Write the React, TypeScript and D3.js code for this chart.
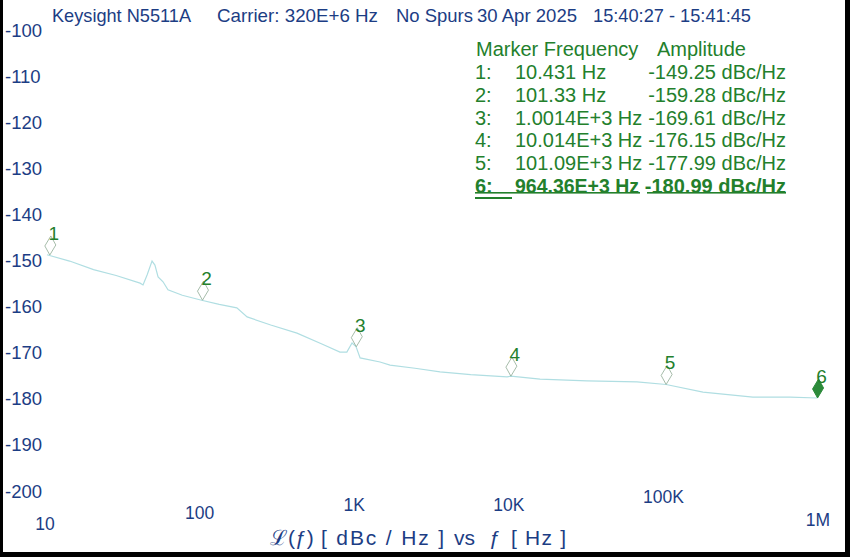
import { useMemo } from 'react';
import * as d3 from 'd3';

// phase noise trace
const traceFreq = [
  10, 14, 20, 28, 40, 41.8, 44.4, 47.8, 49.9, 52.3, 56.3, 60.6, 75, 100, 130, 169, 197, 280, 414, 600,
  785, 870, 940, 997, 1060, 1426, 1655, 2400, 3486, 5500, 9450, 10014, 15450, 31100, 65500, 101090,
  175000, 368000, 640000, 964360
];
const traceLevel = [
  -149.2, -150.6, -152.5, -153.8, -155.5, -155.9, -153.7, -150.6, -151.5, -154.1, -155.2, -157.0,
  -158.2, -159.3, -160.2, -161.0, -163.0, -164.8, -166.6, -169.0, -170.8, -170.8, -168.8, -169.6,
  -172.1, -173.0, -173.7, -174.4, -175.2, -175.8, -176.3, -176.15, -176.8, -177.2, -177.4, -178.0,
  -179.7, -180.8, -180.8, -181.0
];

const markerIds = ['1', '2', '3', '4', '5', '6'];
const markerFreq = [10.431, 101.33, 1001.4, 10014, 101090, 964360];
const markerLevel = [-149.25, -159.28, -169.61, -176.15, -177.99, -180.99];
const markerFreqText = ['10.431 Hz', '101.33 Hz', '1.0014E+3 Hz', '10.014E+3 Hz', '101.09E+3 Hz', '964.36E+3 Hz'];
const markerAmpText = ['-149.25 dBc/Hz', '-159.28 dBc/Hz', '-169.61 dBc/Hz', '-176.15 dBc/Hz', '-177.99 dBc/Hz', '-180.99 dBc/Hz'];

const yTicks = [-100, -110, -120, -130, -140, -150, -160, -170, -180, -190, -200];
const xTicks = [10, 100, 1000, 10000, 100000, 1000000];
const xTickLabels = ['10', '100', '1K', '10K', '100K', '1M'];
// the analyzer staggers its frequency labels vertically
const xTickOffsets = [0, -11, -19, -19, -27, -4];

// header segments: text, left edge, width
const header: [string, number, number][] = [
  ['Keysight N5511A', 52, 139],
  ['Carrier: 320E+6 Hz', 217, 161],
  ['No Spurs', 396, 77],
  ['30 Apr 2025', 477, 100],
  ['15:40:27 - 15:41:45', 593, 158]
];

// axis title pieces: text, left edge, width (0 = natural)
const titleParts: [string, number, number][] = [
  ['ℒ(ƒ)', 270, 0],
  ['[ dBc / Hz ]', 321, 123],
  ['vs', 454, 0],
  ['ƒ', 489, 0],
  ['[ Hz ]', 511, 55]
];

const W = 850;
const H = 557;
const NAVY = '#1c3d84';
const GREEN = '#23802c';
const FONT = '"Liberation Sans", Arial, sans-serif';

export default function App() {
  const x = useMemo(() => d3.scaleLog().domain([10, 1e6]).range([47, 820]), []);
  const y = useMemo(() => d3.scaleLinear().domain([-100, -200]).range([33.1, 483.6]), []);
  const yLabel = useMemo(() => d3.scaleLinear().domain([-100, -200]).range([30, 491]), []);

  const tracePath = useMemo(() => {
    const line = d3
      .line<number>()
      .x((_, i) => x(traceFreq[i]))
      .y(d => y(d));
    return line(traceLevel) ?? '';
  }, [x, y]);

  const diamond = 'M0,0 L-5,-9 L1,-19 L6,-10 Z';

  return (
    <svg width={W} height={H} style={{ position: 'fixed', left: 0, top: 0, background: '#fff' }} fontFamily={FONT}>
      <rect width={W} height={H} fill="#fff" />

      {header.map(([t, hx, hw]) => (
        <text key={t} x={hx} y={22} fontSize={18.5} fill={NAVY} textLength={hw} lengthAdjust="spacingAndGlyphs">
          {t}
        </text>
      ))}

      {yTicks.map(t => (
        <text key={t} x={5} y={yLabel(t) + 6.5} fontSize={18.5} fill={NAVY}>{t}</text>
      ))}

      {xTicks.map((t, i) => (
        <text key={t} x={x(t) - 2} y={530 + xTickOffsets[i]} fontSize={17.5} fill={NAVY} textAnchor="middle">
          {xTickLabels[i]}
        </text>
      ))}

      <g fontSize={21} fill={NAVY}>
        {titleParts.map(([t, tx, tw]) => (
          <text key={t} x={tx} y={545} textLength={tw || undefined} lengthAdjust="spacing">{t}</text>
        ))}
      </g>

      <path d={tracePath} fill="none" stroke="#b0dee2" strokeWidth={1.2} />

      {markerIds.map((id, i) => {
        const px = x(markerFreq[i]);
        const py = y(markerLevel[i]);
        const active = i === markerIds.length - 1;
        return (
          <g key={id}>
            <path
              d={diamond}
              transform={`translate(${px},${py})`}
              fill={active ? '#2b8a3a' : 'none'}
              stroke={active ? '#2b8a3a' : '#8fab94'}
              strokeWidth={active ? 1 : 0.8}
            />
            <text x={px + 4} y={py - 15} fontSize={19} fill={GREEN} textAnchor="middle">{id}</text>
          </g>
        );
      })}

      <g fill={GREEN} fontSize={20}>
        <text x={476} y={56}>Marker Frequency</text>
        <text x={657} y={56}>Amplitude</text>
        {markerIds.map((id, i) => {
          const active = i === markerIds.length - 1;
          const ty = 79 + i * 22.8;
          return (
            <g key={id} fontWeight={active ? 'bold' : 'normal'}>
              <text x={475} y={ty}>{`${id}:`}</text>
              <text x={515} y={ty} textLength={active ? 124 : undefined} lengthAdjust="spacingAndGlyphs">
                {markerFreqText[i]}
              </text>
              <text x={786} y={ty} textAnchor="end">{markerAmpText[i]}</text>
            </g>
          );
        })}
        <rect x={475} y={192} width={165} height={1.6} />
        <rect x={647} y={192} width={139} height={1.6} />
        <rect x={475} y={197} width={37} height={2} />
      </g>

      <rect x={0} y={0} width={3} height={H} fill="#000" />
      <rect x={845} y={0} width={5} height={H} fill="#000" />
      <rect x={0} y={552} width={W} height={5} fill="#000" />
    </svg>
  );
}
